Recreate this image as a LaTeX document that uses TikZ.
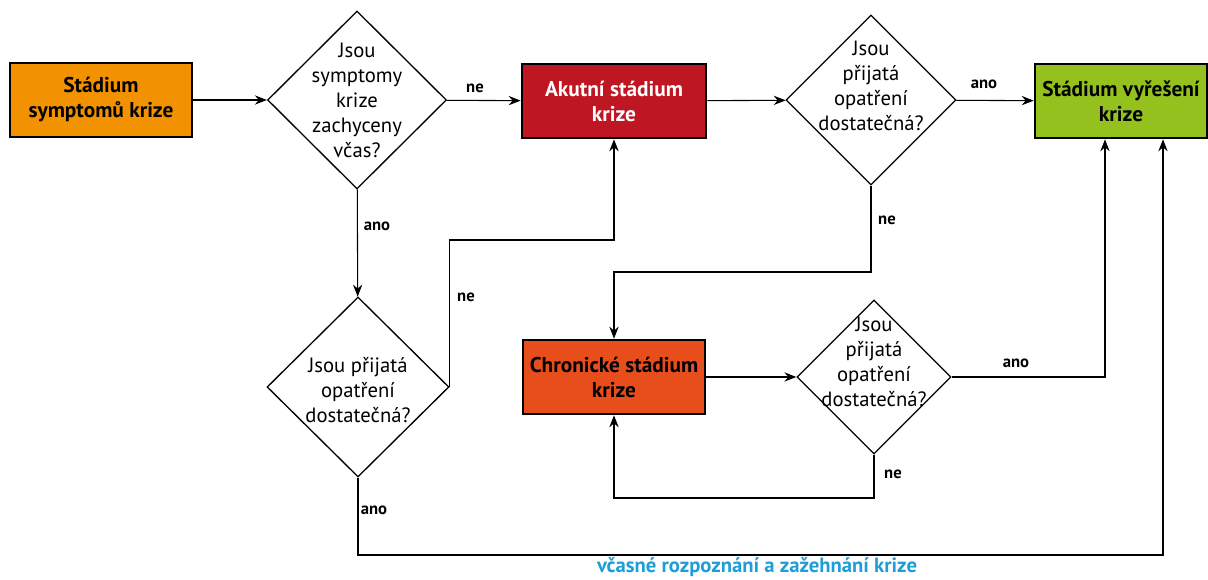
\documentclass[tikz,border=0pt]{standalone}
\usepackage{fontspec}
\setmainfont{PT Sans}
\usetikzlibrary{shapes.geometric,arrows.meta,calc}

\definecolor{crOrange}{RGB}{243,146,0}
\definecolor{crRed}{RGB}{190,22,34}
\definecolor{crGreen}{RGB}{149,193,31}
\definecolor{crChron}{RGB}{232,78,27}
\definecolor{crBlue}{RGB}{29,158,216}

\begin{document}
\begin{tikzpicture}[x=0.75pt,y=0.75pt,yscale=-1,xscale=1,
  stage/.style={draw, line width=2pt, minimum height=55.5pt, inner sep=0pt, align=center, font=\bfseries\fontsize{16}{18.75}\selectfont},
  quest/.style={draw, diamond, line width=1pt, inner sep=0pt},
  qtext/.style={align=center, inner sep=0pt, font=\fontsize{15.5}{18.75}\selectfont},
  lab/.style={inner sep=0.75pt, font=\bfseries\fontsize{12.5}{14}\selectfont},
  arr/.style={line width=0.8pt, -{Stealth[length=9pt,width=7pt,inset=3pt]}}]
\useasboundingbox (0,0) rectangle (1208,580);

%Shape: Rectangle [stages]
\node [stage, fill=crOrange, minimum width=136.5pt] (symp) at (101,100) {Stádium\\symptomů krize};
\node [stage, fill=crRed, text=white, minimum width=138pt] (akut) at (614,101) {Akutní stádium\\krize};
\node [stage, fill=crGreen, minimum width=129pt] (resen) at (1121,101) {Stádium vyřešení\\krize};
\node [stage, fill=crChron, minimum width=136.5pt] (chron) at (614,377) {Chronické stádium\\krize};

%Shape: Diamond [questions]
\node [quest, minimum width=134.25pt, minimum height=133.5pt,
  label={[qtext]center:{Jsou\\symptomy\\krize\\zachyceny\\včas?}}] (q1) at (357,100) {};
\node [quest, minimum width=127.5pt, minimum height=127.5pt,
  label={[qtext, yshift=10.5pt]center:{Jsou\\přijatá\\opatření\\dostatečná?}}] (q2) at (871,100) {};
\node [quest, minimum width=136.5pt, minimum height=135pt,
  label={[qtext, yshift=-2pt]center:{Jsou přijatá\\opatření\\dostatečná?}}] (q3) at (358,387) {};
\node [quest, minimum width=115.5pt, minimum height=115.5pt,
  label={[qtext, yshift=11pt]center:{Jsou\\přijatá\\opatření\\dostatečná?}}] (q4) at (874,377) {};

%Straight Lines
\coordinate (k1) at (614,240);
\coordinate (k2) at (614,272);
\coordinate (k4) at (614,498);
\coordinate (k5) at (1163,555);
\draw [arr] (symp) -- (q1);
\draw [arr] (q1) -- (akut);
\draw [arr] (akut) -- (q2);
\draw [arr] (q2) -- (resen);
\draw [arr] (q1) -- (q3);
\draw [arr] (q3.east) |- (k1) -- (akut.south);
\draw [arr] (q2.south) |- (k2) -- (chron.north);
\draw [arr] (chron) -- (q4);
\draw [arr] (q4.east) -| ($(resen.south)+(-16,0)$);
\draw [arr] (q4.south) |- (k4) -- (chron.south);
\draw [arr] (q3.south) |- (k5) -- ($(resen.south)+(42,0)$);

% Text Node
\node [lab] (l1) at (475,88) {ne};
\node [lab] (l2) at (377,226) {ano};
\node [lab] (l3) at (466,297) {ne};
\node [lab] (l4) at (984,84) {ano};
\node [lab] (l5) at (887,220) {ne};
\node [lab] (l6) at (1016,363) {ano};
\node [lab] (l7) at (893,474) {ne};
\node [lab] (l8) at (374,510) {ano};
\node [font=\bfseries\fontsize{15.5}{18}\selectfont, text=crBlue] (early) at (757,567) {včasné rozpoznání a zažehnání krize};
\end{tikzpicture}
\end{document}
